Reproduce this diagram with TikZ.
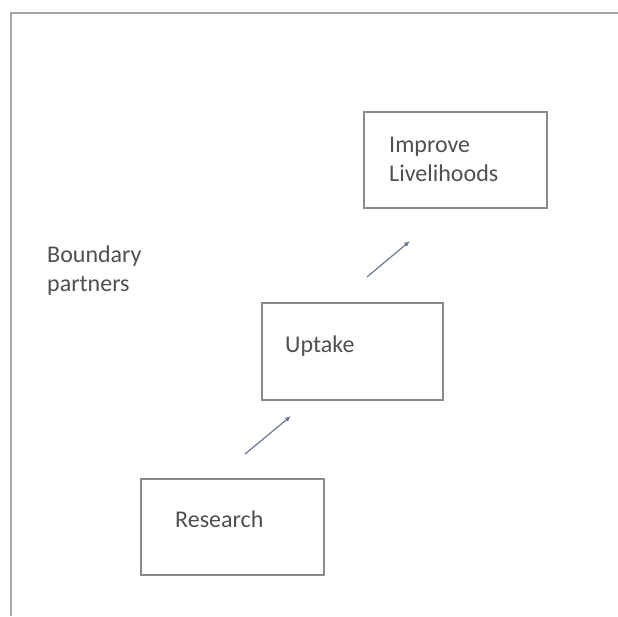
\documentclass[tikz,border=0pt]{standalone}
\usepackage{fontspec}
\setmainfont{Carlito}
\usetikzlibrary{arrows.meta}
\definecolor{boxgray}{HTML}{8A8A8A}
\definecolor{txtgray}{HTML}{505050}
\definecolor{arrowcol}{HTML}{6A7A95}
\definecolor{framegray}{HTML}{A8A8A8}
\tikzset{
  stagebox/.style={draw=boxgray, line width=1.3pt, fill=white},
  lbl/.style={text=txtgray, font=\fontsize{24}{29}\selectfont, anchor=base west, align=left, inner sep=0pt},
  flow/.style={draw=arrowcol, line width=1.2pt, -{Latex[length=6pt,width=5pt]}}
}
\begin{document}
\begin{tikzpicture}[x=1pt,y=1pt]
\useasboundingbox (0,0) rectangle (618,616);
\fill[white] (0,0) rectangle (618,616);
% outer frame (top and left edges only visible)
\draw[framegray, line width=2pt] (11,0) -- (11,603) -- (618,603);
% boxes
\draw[stagebox] (364,408) rectangle (547,504);
\draw[stagebox] (262,216) rectangle (443,313);
\draw[stagebox] (141,41) rectangle (324,137);
\node[lbl] (improve) at (389,434) {Improve\\Livelihoods};
\node[lbl] (uptake) at (285,263) {Uptake};
\node[lbl] (research) at (175,89) {Research};
\node[lbl] (bp) at (47,324) {Boundary\\partners};
\coordinate (a1s) at (245,162);
\coordinate (a1e) at (291,200);
\coordinate (a2s) at (367,339);
\coordinate (a2e) at (410,375);
\draw[flow] (a1s) -- (a1e);
\draw[flow] (a2s) -- (a2e);
\end{tikzpicture}
\end{document}
